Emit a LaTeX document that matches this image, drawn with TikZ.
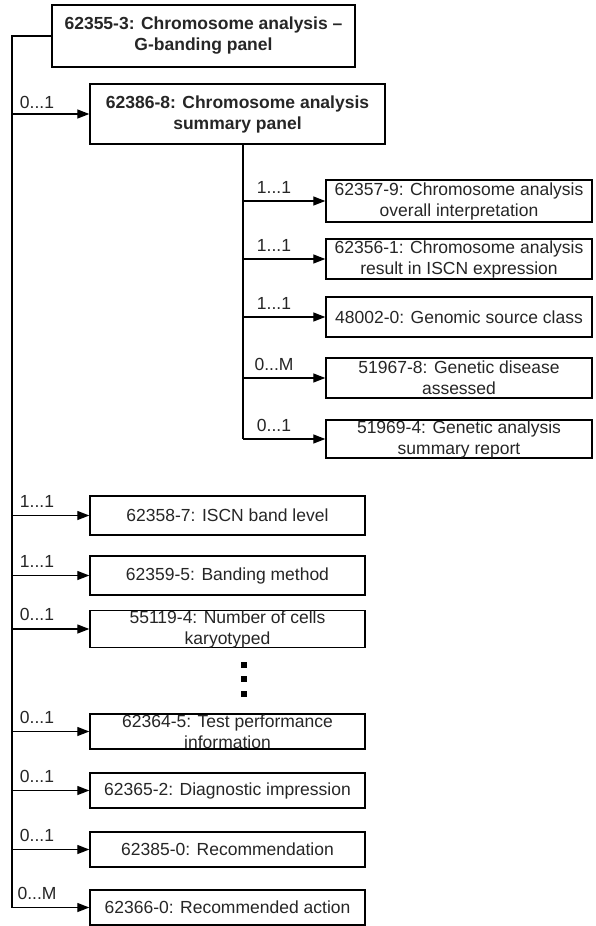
\documentclass[tikz,border=0pt]{standalone}
\usepackage{fontspec}
\setmainfont{Liberation Sans}
\usetikzlibrary{arrows.meta,calc}
\begin{document}
\begin{tikzpicture}[x=1pt,y=-1pt,
  box/.style={draw, line width=1.4pt, inner sep=0pt, align=center, text=black!85,
    font=\fontsize{17.5}{21}\selectfont},
  bbox/.style={box, font=\fontsize{17.5}{21}\selectfont\bfseries},
  sub/.style={box, minimum width=266pt},
  low/.style={box, minimum width=275pt},
  arr/.style={line width=1.3pt, -{Triangle[length=12pt,width=9pt]}},
  trunkline/.style={line width=2.4pt},
  lab/.style={font=\fontsize{17.5}{21}\selectfont, text=black!85, inner sep=0pt},
  dot/.style={fill=black, minimum size=5.5pt, inner sep=0pt}]
\useasboundingbox (0,0) rectangle (595,926);
\fill[white] (0,0) rectangle (595,926);

\node[bbox, minimum width=303pt, minimum height=62pt] (top) at (203.5,36) {62355-3: Chromosome analysis --\\G-banding panel};
\node[bbox, minimum width=295pt, minimum height=60pt] (b2) at (237.5,114) {62386-8: Chromosome analysis\\summary panel};

\node[sub, minimum height=42pt] (A) at (459,201) {62357-9: Chromosome analysis\\overall interpretation};
\node[sub, minimum height=40pt] (B) at (459,259) {62356-1: Chromosome analysis\\result in ISCN expression};
\node[sub, minimum height=40pt] (C) at (459,317) {48002-0: Genomic source class};
\node[sub, minimum height=40pt] (D) at (459,378) {51967-8: Genetic disease\\assessed};
\node[sub, minimum height=38pt] (E) at (459,439) {51969-4: Genetic analysis\\summary report};

\node[low, minimum height=39pt] (L1) at (227.5,515.5) {62358-7: ISCN band level};
\node[low, minimum height=39pt] (L2) at (227.5,575.5) {62359-5: Banding method};
\node[low, minimum height=36pt] (L3) at (227.5,629) {55119-4: Number of cells\\karyotyped};
\node[low, minimum height=35pt] (L4) at (227.5,731.5) {62364-5: Test performance\\information};
\node[low, minimum height=35pt] (L5) at (227.5,790.5) {62365-2: Diagnostic impression};
\node[low, minimum height=35pt] (L6) at (227.5,849.5) {62385-0: Recommendation};
\node[low, minimum height=35pt] (L7) at (227.5,907.5) {62366-0: Recommended action};

\node[dot] (d1) at (244,665) {};
\node[dot] (d2) at (244,679) {};
\node[dot] (d3) at (244,694) {};

% main trunk
\coordinate (trunk) at (12,36);
\draw[trunkline] (top.west) -- (trunk) -- (trunk |- L7.west);
\draw[arr] (trunk |- b2.west) -- (b2.west);
\foreach \n in {L1,L2,L3,L4,L5,L6,L7}
  \draw[arr] (trunk |- \n.west) -- (\n.west);

% sub trunk
\coordinate (st) at ($(b2.south)+(5.5,0)$);
\draw[line width=1.4pt] (st) -- (st |- E.west);
\foreach \n in {A,B,C,D,E}
  \draw[arr] (st |- \n.west) -- (\n.west);

% labels
\node[lab] (lb2) at (37,102) {0...1};
\node[lab] (la) at (274,187) {1...1};
\node[lab] (lb) at (274,245) {1...1};
\node[lab] (lc) at (274,303) {1...1};
\node[lab] (ld) at (274,364) {0...M};
\node[lab] (le) at (274,425) {0...1};
\node[lab] (l1) at (37,501) {1...1};
\node[lab] (l2) at (37,561) {1...1};
\node[lab] (l3) at (37,614) {0...1};
\node[lab] (l4) at (37,717) {0...1};
\node[lab] (l5) at (37,776) {0...1};
\node[lab] (l6) at (37,835) {0...1};
\node[lab] (l7) at (37,893) {0...M};
\end{tikzpicture}
\end{document}
